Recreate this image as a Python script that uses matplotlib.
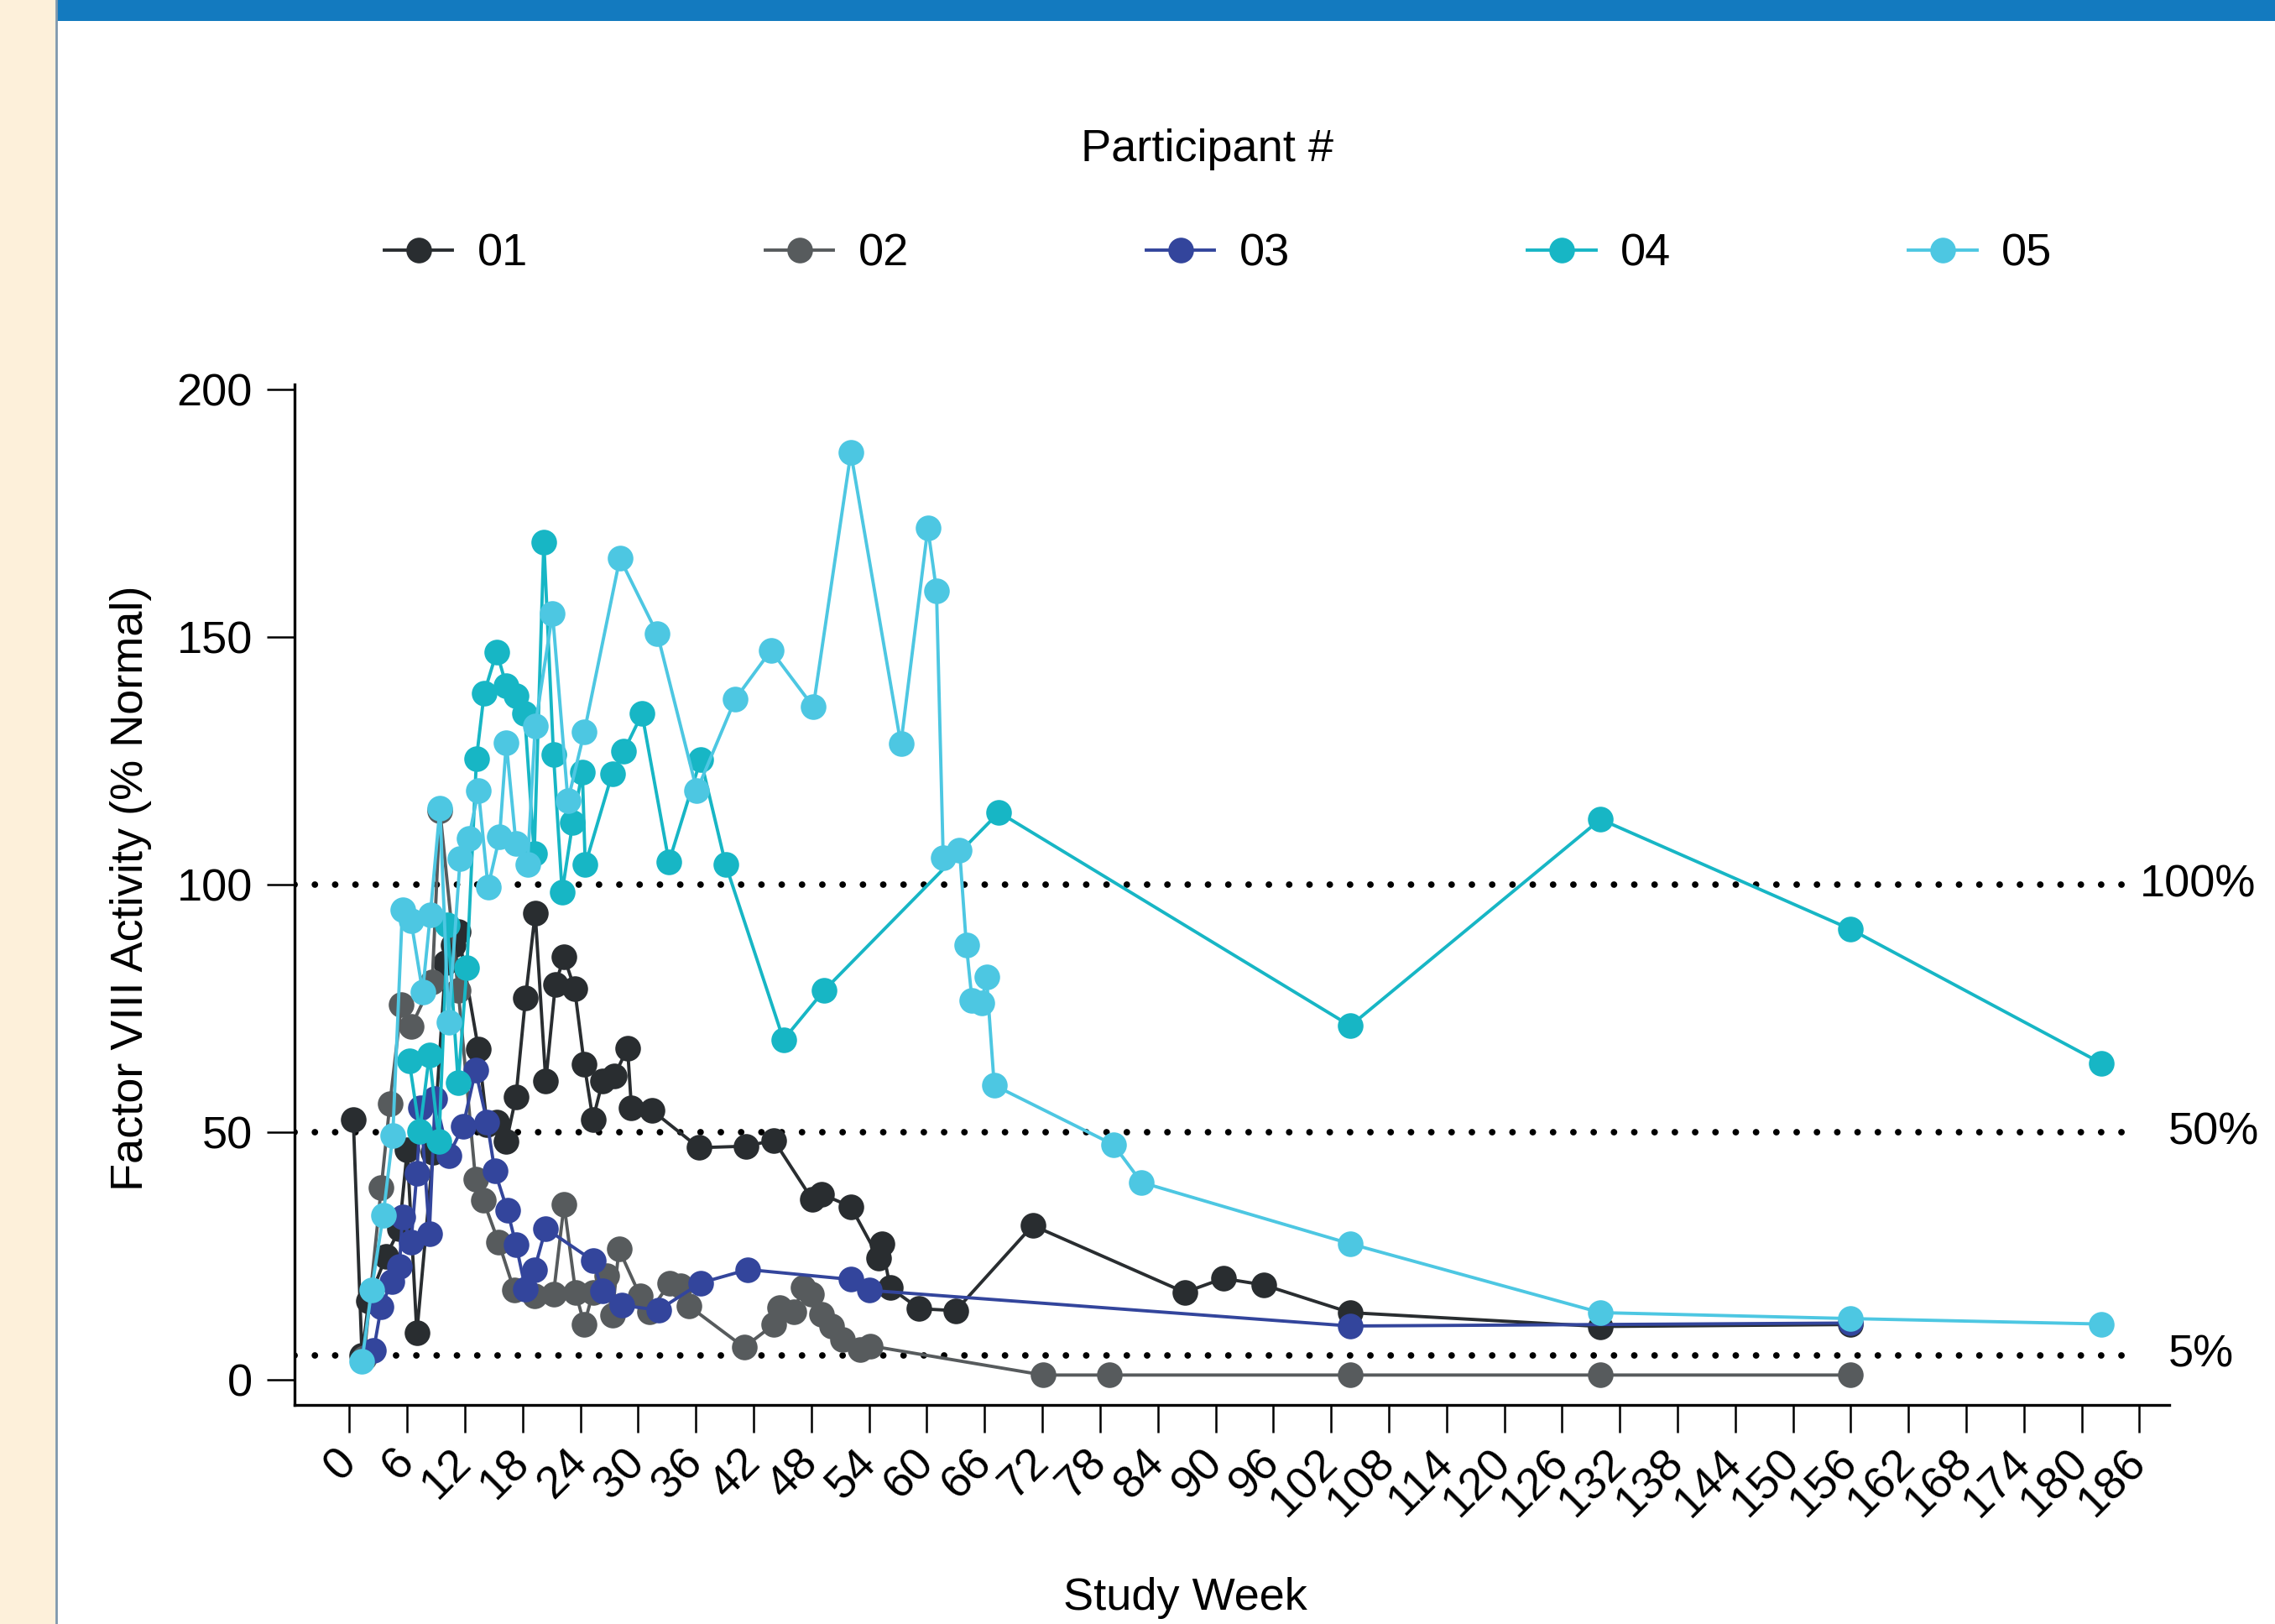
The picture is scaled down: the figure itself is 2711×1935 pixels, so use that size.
import matplotlib.pyplot as plt
from matplotlib.lines import Line2D
from matplotlib.patches import Rectangle

plt.rcParams['font.family'] = ['Liberation Sans', 'DejaVu Sans']

# Factor VIII activity by participant: (study week, % normal)
wk01 = [0.4, 1.3, 2.0, 3.8, 5.2, 6.0, 7.0, 8.7, 10.0, 10.8, 11.3, 13.4, 14.3,
        15.3, 16.3, 17.3, 18.3, 19.3, 20.4, 21.4, 22.3, 23.4, 24.4, 25.3, 26.3,
        27.5, 28.9, 29.3, 31.4, 36.3, 41.2, 44.1, 48.1, 49.1, 52.1, 55.0, 55.3,
        56.2, 59.2, 63.0, 71.0, 86.8, 90.8, 95.0, 104.0, 130.0, 156.0]
fv01 = [52.6, 5.0, 16.0, 25.0, 30.5, 46.4, 9.5, 46.0, 84.3, 87.9, 90.5, 66.8, 51.5,
        52.0, 48.1, 57.1, 77.2, 94.3, 60.3, 79.9, 85.4, 79.0, 63.7, 52.6, 60.3,
        61.3, 67.0, 55.0, 54.5, 46.9, 47.2, 48.4, 36.4, 37.5, 35.0, 24.6, 27.5,
        18.6, 14.4, 14.0, 31.2, 17.7, 20.5, 19.2, 13.6, 10.8, 11.2]

wk02 = [1.5, 3.3, 4.2, 5.4, 6.4, 8.6, 9.4, 11.3, 13.1, 13.9, 15.5, 17.1, 19.2,
        21.2, 22.3, 23.5, 24.4, 25.3, 26.7, 27.3, 28.0, 30.2, 31.2, 33.3, 34.4,
        35.3, 41.0, 44.1, 44.7, 46.2, 47.1, 48.0, 49.1, 50.1, 51.2, 53.1, 54.1,
        72.1, 79.0, 104.0, 130.0, 156.0]
fv02 = [4.5, 38.8, 55.8, 75.8, 71.3, 80.3, 115.0, 78.6, 40.5, 36.3, 27.8, 18.2, 17.0,
        17.3, 35.4, 17.7, 11.2, 17.7, 21.0, 13.1, 26.4, 17.0, 13.8, 19.6, 19.0,
        14.9, 6.6, 11.2, 14.6, 13.8, 18.7, 17.3, 13.3, 10.9, 8.2, 6.2, 6.9,
        1.0, 1.0, 1.0, 1.0, 1.0]

wk03 = [2.5, 3.3, 4.4, 5.2, 5.5, 6.4, 7.0, 7.4, 8.3, 8.9, 10.3, 11.8, 13.1, 14.3,
        15.1, 16.4, 17.3, 18.3, 19.2, 20.4, 25.3, 26.3, 28.3, 32.1, 36.5, 41.4,
        52.1, 54.0, 104.0, 156.0]
fv03 = [5.9, 14.8, 19.9, 23.0, 32.9, 27.8, 41.7, 54.9, 29.6, 56.8, 45.3, 51.2, 62.5, 52.1,
        42.2, 34.3, 27.4, 18.3, 22.2, 30.6, 24.1, 18.0, 15.1, 14.1, 19.6, 22.3,
        20.3, 18.1, 10.9, 11.5]

wk04 = [6.2, 7.3, 8.3, 9.3, 10.2, 11.3, 12.2, 13.2, 14.0, 15.3, 16.3, 17.3, 18.2,
        19.2, 20.2, 21.2, 22.1, 23.2, 24.2, 24.5, 27.3, 28.5, 30.4, 33.2, 36.5,
        39.1, 45.1, 49.3, 67.5, 104.0, 130.0, 156.0, 182.0]
fv04 = [64.5, 50.2, 65.6, 48.1, 91.9, 60.0, 83.2, 125.5, 138.7, 147.0, 140.2, 138.2, 134.5,
        106.3, 169.2, 126.3, 98.5, 112.5, 122.8, 104.0, 122.4, 126.9, 134.5, 104.6, 125.3,
        104.0, 68.7, 78.6, 114.6, 71.5, 113.2, 91.0, 64.0]

wk05 = [1.3, 2.3, 3.5, 4.5, 5.5, 6.4, 7.6, 8.4, 9.4, 10.3, 11.5, 12.4, 13.4, 14.4,
        15.6, 16.3, 17.3, 18.5, 19.3, 21.1, 22.7, 24.4, 28.1, 32.0, 36.1, 40.1,
        43.8, 48.2, 52.1, 57.3, 60.1, 61.0, 61.7, 63.4, 64.1, 64.7, 65.7, 66.2,
        67.0, 79.4, 82.3, 104.0, 130.0, 156.0, 182.0]
fv05 = [3.8, 18.2, 33.2, 49.3, 95.0, 92.7, 78.4, 93.9, 115.4, 72.2, 105.2, 109.4, 119.0, 99.5,
        109.7, 128.6, 108.3, 104.0, 132.0, 154.8, 117.0, 130.8, 165.9, 150.6, 119.0, 137.5,
        147.3, 135.9, 187.2, 128.4, 172.0, 159.4, 105.4, 107.0, 87.9, 76.6, 76.2, 81.3,
        59.5, 47.5, 39.9, 27.5, 13.6, 12.4, 11.3]

participants = ['01', '02', '03', '04', '05']
colours = ['#292d30', '#575b5d', '#33459c', '#17b6c5', '#4dc7e2']
weeks = [wk01, wk02, wk03, wk04, wk05]
values = [fv01, fv02, fv03, fv04, fv05]

ref_levels = [100, 50, 5]
ref_labels = ['100%', '50%', '5%']
ref_label_x = [186.0, 189.0, 189.0]

xticks = list(range(0, 187, 6))
yticks = [0, 50, 100, 150, 200]

FS = 19.5

fig = plt.figure(figsize=(13.555, 9.675), dpi=200)

# page decoration: pale side strip and blue title band
fig.patches.append(Rectangle((0, 0), 0.0245, 1, transform=fig.transFigure,
                             facecolor='#fdf0da', edgecolor='none', zorder=0))
fig.add_artist(Line2D([0.0248, 0.0248], [0, 1], transform=fig.transFigure,
                      color='#7f98ad', lw=1.0))
fig.patches.append(Rectangle((0.0252, 0.987), 0.975, 0.013, transform=fig.transFigure,
                             facecolor='#137abf', edgecolor='none', zorder=0))

ax = fig.add_axes([0.1295, 0.135, 0.824, 0.6283])

for p, c, w, v in zip(participants, colours, weeks, values):
    ax.plot(w, v, '-', color=c, lw=1.4, marker='o', markersize=11,
            markeredgewidth=0, label=p)

for lev, lab, lx in zip(ref_levels, ref_labels, ref_label_x):
    ax.plot([-5.7, 185], [lev, lev], color='black', lw=2.8,
            linestyle=(0, (0.01, 3.1)), dash_capstyle='round', zorder=1)
    ax.text(lx, lev, lab, fontsize=FS, ha='left', va='center', clip_on=False)

ax.set_xlim(-5.7, 189.1)
ax.set_ylim(-5, 201)
ax.spines['top'].set_visible(False)
ax.spines['right'].set_visible(False)
for s in ['left', 'bottom']:
    ax.spines[s].set_linewidth(1.2)

ax.set_yticks(yticks)
ax.set_xticks(xticks)
ax.set_xticklabels([str(t) for t in xticks], rotation=45, ha='right',
                   va='center', rotation_mode='anchor')
ax.tick_params(axis='both', labelsize=FS, length=12, width=0.9, direction='out')
ax.tick_params(axis='x', pad=10)
ax.tick_params(axis='y', pad=6)

fig.text(0.0575, 0.453, 'Factor VIII Activity (% Normal)', fontsize=FS,
         rotation=90, ha='center', va='center')
fig.text(0.521, 0.016, 'Study Week', fontsize=FS, ha='center', va='center')

fig.text(0.5306, 0.908, 'Participant #', fontsize=FS, ha='center', va='center')
fig.legend(*ax.get_legend_handles_labels(), loc='center left',
           bbox_to_anchor=(0.169, 0.8436), ncol=5, frameon=False, fontsize=FS,
           handlelength=1.5, handletextpad=0.55, columnspacing=5.22,
           borderpad=0, borderaxespad=0, markerscale=1.0)

fig.savefig('out.png', dpi=200)
